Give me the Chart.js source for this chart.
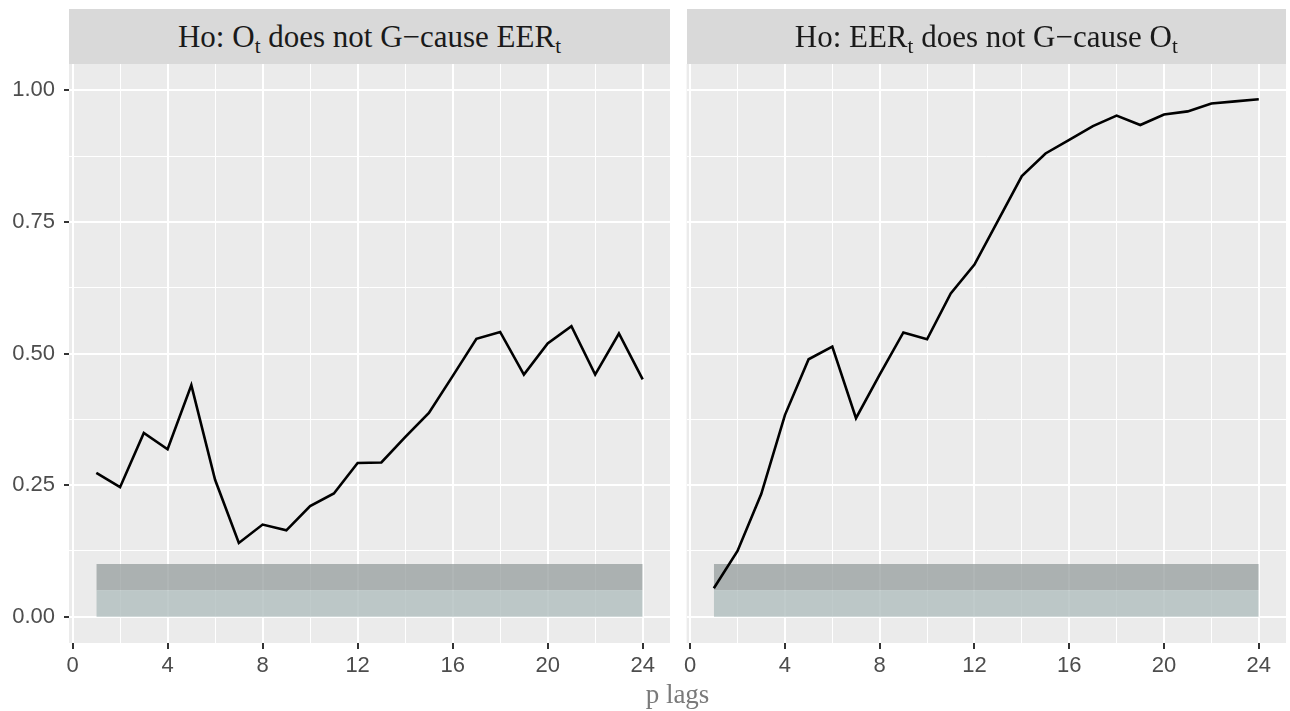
<!DOCTYPE html>
<html>
<head>
<meta charset="utf-8">
<script src="https://cdn.jsdelivr.net/npm/chart.js@4.4.1/dist/chart.umd.min.js"></script>
<style>
  html, body { margin: 0; padding: 0; background: #fff; }
  #wrap { position: relative; width: 1290px; height: 711px; overflow: hidden; }
  canvas { position: absolute; top: 0; }
  #cL { left: 0; }
  #cR { left: 680px; }
  .strip {
    position: absolute; top: 9px; height: 55px; background: #d9d9d9; color: #1a1a1a;
    font-family: "Liberation Serif", serif; font-size: 31px; line-height: 56px;
    text-align: center; white-space: nowrap; overflow: hidden;
  }
  .strip sub { font-size: 21px; vertical-align: -6px; line-height: 0; }
  #xtitle {
    position: absolute; left: 69px; width: 1217px; top: 681px; text-align: center;
    font-family: "Liberation Serif", serif; font-size: 27px; line-height: 26px; color: #7a7a7a;
  }
</style>
</head>
<body>
<div id="wrap">
  <canvas id="cL" width="670" height="711"></canvas>
  <canvas id="cR" width="610" height="711"></canvas>
  <div class="strip" id="sL">Ho: O<sub>t</sub> does not G&minus;cause EER<sub>t</sub></div>
  <div class="strip" id="sR">Ho: EER<sub>t</sub> does not G&minus;cause O<sub>t</sub></div>
  <div id="xtitle">p lags</div>
</div>
<script>
// datos
const lags = [1, 2, 3, 4, 5, 6, 7, 8, 9, 10, 11, 12, 13, 14, 15, 16, 17, 18, 19, 20, 21, 22, 23, 24];
const pOilToEer = [0.273, 0.246, 0.349, 0.318, 0.440, 0.260, 0.140, 0.175, 0.164, 0.210, 0.234, 0.292,
                   0.293, 0.341, 0.387, 0.457, 0.528, 0.541, 0.460, 0.519, 0.552, 0.460, 0.538, 0.451];
const pEerToOil = [0.054, 0.125, 0.233, 0.383, 0.489, 0.513, 0.377, 0.460, 0.540, 0.527, 0.614, 0.669,
                   0.753, 0.837, 0.880, 0.906, 0.932, 0.952, 0.934, 0.954, 0.960, 0.975, 0.979, 0.983];
const sigLevels = [0.05, 0.10];
const bandLags = [1, 24];

const xMajor = [0, 4, 8, 12, 16, 20, 24];
const xMinor = [2, 6, 10, 14, 18, 22];
const yMajor = [0, 0.25, 0.5, 0.75, 1];
const yMinor = [0.125, 0.375, 0.625, 0.875];

// fondo gris del panel
const panelBg = {
    id: 'panelBg',
    beforeDraw(chart) {
        const { ctx, chartArea: a } = chart;
        ctx.save();
        ctx.fillStyle = '#ebebeb';
        ctx.fillRect(a.left, a.top, a.right - a.left, a.bottom - a.top);
        ctx.restore();
    }
};

function crearPanel(id, serie, conEtiquetasY, padLeft, padRight) {
    const ctx = document.getElementById(id).getContext('2d');
    return new Chart(ctx, {
        type: 'line',
        data: {
            datasets: [
                {
                    data: lags.map((x, i) => ({ x, y: serie[i] })),
                    borderColor: '#000',
                    borderWidth: 2.6,
                    pointRadius: 0,
                    tension: 0,
                    fill: false,
                    order: 1
                },
                {
                    data: bandLags.map(x => ({ x, y: sigLevels[1] })),
                    borderWidth: 0,
                    pointRadius: 0,
                    backgroundColor: 'rgba(150,157,157,0.75)',
                    fill: '+1',
                    order: 3
                },
                {
                    data: bandLags.map(x => ({ x, y: sigLevels[0] })),
                    borderWidth: 0,
                    pointRadius: 0,
                    backgroundColor: 'rgba(176,190,190,0.8)',
                    fill: { value: 0 },
                    order: 2
                }
            ]
        },
        options: {
            responsive: false,
            animation: false,
            layout: { padding: { top: 64, bottom: 0, left: padLeft, right: padRight } },
            plugins: { legend: { display: false }, tooltip: { enabled: false } },
            scales: {
                x: {
                    type: 'linear',
                    min: -0.15,
                    max: 25.15,
                    afterBuildTicks: s => { s.ticks = xMajor.concat(xMinor).sort((a, b) => a - b).map(v => ({ value: v })); },
                    afterFit: s => { s.height = 68; },
                    border: { display: false },
                    grid: {
                        color: '#ffffff',
                        lineWidth: c => xMajor.includes(c.tick.value) ? 2 : 1,
                        tickColor: c => xMajor.includes(c.tick.value) ? '#333333' : 'rgba(0,0,0,0)',
                        tickWidth: 2,
                        tickLength: 6
                    },
                    ticks: {
                        autoSkip: false,
                        maxRotation: 0,
                        padding: 4,
                        color: '#4d4d4d',
                        font: { family: 'Liberation Sans', size: 22 },
                        callback: v => xMajor.includes(v) ? String(v) : ''
                    }
                },
                y: {
                    type: 'linear',
                    min: -0.05,
                    max: 1.05,
                    afterBuildTicks: s => { s.ticks = yMajor.concat(yMinor).sort((a, b) => a - b).map(v => ({ value: v })); },
                    afterFit: s => { s.width = conEtiquetasY ? 69 : 0; },
                    border: { display: false },
                    grid: {
                        color: '#ffffff',
                        lineWidth: c => yMajor.includes(c.tick.value) ? 2 : 1,
                        tickColor: c => (conEtiquetasY && yMajor.includes(c.tick.value)) ? '#333333' : 'rgba(0,0,0,0)',
                        tickWidth: 2,
                        tickLength: 5,
                        drawTicks: conEtiquetasY
                    },
                    ticks: {
                        display: conEtiquetasY,
                        autoSkip: false,
                        padding: 9,
                        color: '#4d4d4d',
                        font: { family: 'Liberation Sans', size: 22 },
                        callback: v => yMajor.includes(v) ? v.toFixed(2) : ''
                    }
                }
            }
        },
        plugins: [panelBg]
    });
}

const chartL = crearPanel('cL', pOilToEer, true, 0, 0);
const chartR = crearPanel('cR', pEerToOil, false, 5, 4);

// colocar las tiras de título sobre cada panel
function colocarTira(tiraId, chart, offset) {
    const a = chart.chartArea;
    const el = document.getElementById(tiraId);
    el.style.left = (offset + a.left) + 'px';
    el.style.width = (a.right - a.left) + 'px';
}
colocarTira('sL', chartL, 0);
colocarTira('sR', chartR, 680);
</script>
</body>
</html>
